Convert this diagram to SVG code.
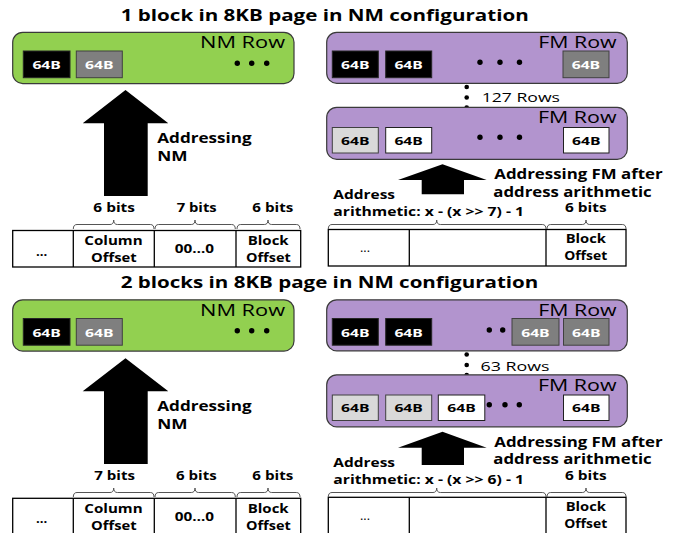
<svg xmlns="http://www.w3.org/2000/svg" width="682" height="533" viewBox="0 0 682 533">
<defs>
<style>
text{font-family:"Open Sans","Liberation Sans",sans-serif;fill:#000}
.b{font-weight:bold}
.title{font-size:16px;font-weight:bold}
.row{font-size:15.5px}
.blk{font-size:11px;font-weight:bold}
.w{fill:#fff}
.lbl{font-size:14px;font-weight:bold}
.sm{font-size:12.5px;font-weight:bold}
.rows{font-size:13px}
.nm{fill:#92D050;stroke:#3a3a3a;stroke-width:1.2}
.fm{fill:#B294CE;stroke:#3a3a3a;stroke-width:1.2}
.k{fill:#000;stroke:#262626;stroke-width:1}
.g{fill:#7F7F7F;stroke:#404040;stroke-width:1}
.lg{fill:#D9D9D9;stroke:#404040;stroke-width:1}
.wh{fill:#fff;stroke:#202020;stroke-width:1}
.tbl{fill:#fff;stroke:#000;stroke-width:1.3}
.dv{stroke:#000;stroke-width:1.3}
.br{fill:none;stroke:#555;stroke-width:1}
.arr{fill:#000}
</style>
</defs>

<!-- ================= TOP HALF ================= -->
<g id="top">
  <text class="title" x="120.7" y="20.7" textLength="408" lengthAdjust="spacingAndGlyphs">1 block in 8KB page in NM configuration</text>

  <g id="nm-row-1">
    <rect class="nm" x="12.7" y="32.3" width="281.3" height="51.3" rx="10"/>
    <text class="row" x="200" y="48.3" textLength="85" lengthAdjust="spacingAndGlyphs">NM Row</text>
    <rect class="k" x="23.3" y="51" width="46.7" height="26.7"/>
    <text class="blk w" x="32.4" y="69" textLength="28.5" lengthAdjust="spacingAndGlyphs">64B</text>
    <rect class="g" x="76.3" y="51" width="46" height="26.7"/>
    <text class="blk w" x="85" y="69" textLength="28.5" lengthAdjust="spacingAndGlyphs">64B</text>
    <circle cx="237.3" cy="63.3" r="2.7"/>
    <circle cx="251.7" cy="63.3" r="2.7"/>
    <circle cx="266.7" cy="63.3" r="2.7"/>
  </g>

  <g id="fm-row-1a">
    <rect class="fm" x="326.7" y="32.3" width="300.6" height="51" rx="10"/>
    <text class="row" x="538.3" y="48.3" textLength="78.3" lengthAdjust="spacingAndGlyphs">FM Row</text>
    <rect class="k" x="332.3" y="51" width="46" height="26.7"/>
    <text class="blk w" x="341" y="69" textLength="28.5" lengthAdjust="spacingAndGlyphs">64B</text>
    <rect class="k" x="385.7" y="51" width="46" height="26.7"/>
    <text class="blk w" x="394.4" y="69" textLength="28.5" lengthAdjust="spacingAndGlyphs">64B</text>
    <rect class="g" x="563" y="51" width="46" height="26.7"/>
    <text class="blk w" x="571.7" y="69" textLength="28.5" lengthAdjust="spacingAndGlyphs">64B</text>
    <circle cx="480" cy="62.3" r="2.7"/>
    <circle cx="500" cy="62.3" r="2.7"/>
    <circle cx="519.5" cy="62.3" r="2.7"/>
  </g>

  <g id="rows-1">
    <circle cx="466.7" cy="87" r="2.3"/>
    <circle cx="466.7" cy="97.5" r="2.3"/>
    <circle cx="466.7" cy="107.5" r="2.3"/>
    <text class="rows" x="481.7" y="102.3" textLength="78.3" lengthAdjust="spacingAndGlyphs">127 Rows</text>
  </g>

  <g id="fm-row-1b">
    <rect class="fm" x="326.7" y="107.3" width="300.6" height="52" rx="10"/>
    <text class="row" x="538" y="123.3" textLength="78.5" lengthAdjust="spacingAndGlyphs">FM Row</text>
    <rect class="lg" x="332.3" y="127.5" width="46" height="25.5"/>
    <text class="blk" x="341" y="144.5" textLength="28.5" lengthAdjust="spacingAndGlyphs">64B</text>
    <rect class="wh" x="385.7" y="127.5" width="46" height="25.5"/>
    <text class="blk" x="394.4" y="144.5" textLength="28.5" lengthAdjust="spacingAndGlyphs">64B</text>
    <rect class="wh" x="563.5" y="127.5" width="45.5" height="25.5"/>
    <text class="blk" x="572" y="144.5" textLength="28.5" lengthAdjust="spacingAndGlyphs">64B</text>
    <circle cx="480" cy="137.3" r="2.7"/>
    <circle cx="500" cy="137.3" r="2.7"/>
    <circle cx="519.5" cy="137.3" r="2.7"/>
  </g>

  <g id="label-nm-1">
    <text class="lbl" x="157.3" y="143" textLength="94.4" lengthAdjust="spacingAndGlyphs">Addressing</text>
    <text class="lbl" x="157.3" y="161" textLength="30.3" lengthAdjust="spacingAndGlyphs">NM</text>
  </g>
  <g id="label-fm-1">
    <text class="lbl" x="494.3" y="179" textLength="168.4" lengthAdjust="spacingAndGlyphs">Addressing FM after</text>
    <text class="lbl" x="493.3" y="196.7" textLength="158.4" lengthAdjust="spacingAndGlyphs">address arithmetic</text>
    <text class="sm" x="333.3" y="199.3" textLength="61.7" lengthAdjust="spacingAndGlyphs">Address</text>
    <text class="sm" x="333.3" y="216" textLength="190.7" lengthAdjust="spacingAndGlyphs">arithmetic: x - (x &gt;&gt; 7) - 1</text>
  </g>

  <g id="nm-address-1">
    <text class="sm" x="93.3" y="212" textLength="41.7" lengthAdjust="spacingAndGlyphs">6 bits</text>
    <text class="sm" x="176.7" y="212" textLength="40" lengthAdjust="spacingAndGlyphs">7 bits</text>
    <text class="sm" x="252.3" y="212" textLength="41" lengthAdjust="spacingAndGlyphs">6 bits</text>
    <rect class="tbl" x="12.7" y="230.5" width="288" height="36.5"/>
    <line class="dv" x1="73.3" y1="230.5" x2="73.3" y2="267"/>
    <line class="dv" x1="154.3" y1="230.5" x2="154.3" y2="267"/>
    <line class="dv" x1="236" y1="230.5" x2="236" y2="267"/>
    <text class="sm" x="36" y="255.5" textLength="11.3" lengthAdjust="spacingAndGlyphs">...</text>
    <text class="sm" x="84.3" y="245" textLength="58.3" lengthAdjust="spacingAndGlyphs">Column</text>
    <text class="sm" x="91" y="261.7" textLength="45.7" lengthAdjust="spacingAndGlyphs">Offset</text>
    <text class="sm" x="174.7" y="253.3" textLength="39.3" lengthAdjust="spacingAndGlyphs">00…0</text>
    <text class="sm" x="247.7" y="245" textLength="41" lengthAdjust="spacingAndGlyphs">Block</text>
    <text class="sm" x="246" y="261.7" textLength="44.7" lengthAdjust="spacingAndGlyphs">Offset</text>
  </g>

  <g id="fm-address-1">
    <text class="sm" x="565" y="212.3" textLength="41.7" lengthAdjust="spacingAndGlyphs">6 bits</text>
    <rect class="tbl" x="328.3" y="229.5" width="297.7" height="36.5"/>
    <line class="dv" x1="409.3" y1="229.5" x2="409.3" y2="266"/>
    <line class="dv" x1="546" y1="229.5" x2="546" y2="266"/>
    <text style="font-size:12px" x="360" y="252" textLength="10" lengthAdjust="spacingAndGlyphs">...</text>
    <text class="sm" x="565.7" y="243.3" textLength="40.3" lengthAdjust="spacingAndGlyphs">Block</text>
    <text class="sm" x="564.3" y="260" textLength="43" lengthAdjust="spacingAndGlyphs">Offset</text>
  </g>

  <g id="connectors-1">
    <polygon class="arr" points="125.5,90 168.3,123.3 147.7,123.3 147.7,196 104,196 104,123.3 82.7,123.3"/>
    <polygon class="arr" points="442.5,164.3 486.7,180 464,180 464,194.3 421.7,194.3 421.7,180 398,180"/>
    <path class="br" d="M73.3 229 Q73.3 224.5 77 224.5 H110 Q113.7 224.5 113.7 220 Q113.7 224.5 117.4 224.5 H150.3 Q154 224.5 154 229"/>
    <path class="br" d="M155 229 Q155 224.5 158.7 224.5 H191.3 Q195 224.5 195 220 Q195 224.5 198.7 224.5 H231.6 Q235.3 224.5 235.3 229"/>
    <path class="br" d="M237 229 Q237 224.5 240.7 224.5 H264.3 Q268 224.5 268 220 Q268 224.5 271.7 224.5 H296.3 Q300 224.5 300 229"/>
    <path class="br" d="M328.3 229 Q328.3 224.5 332 224.5 H433 Q436.7 224.5 436.7 220 Q436.7 224.5 440.4 224.5 H542.3 Q546 224.5 546 229"/>
    <path class="br" d="M547 229 Q547 224.5 550.7 224.5 H582.3 Q586 224.5 586 220 Q586 224.5 589.7 224.5 H622.3 Q626 224.5 626 229"/>
  </g>
</g>

<!-- ================= BOTTOM HALF ================= -->
<g id="bottom" transform="translate(0,267.5)">
  <text class="title" x="120.7" y="20.8" textLength="417.6" lengthAdjust="spacingAndGlyphs">2 blocks in 8KB page in NM configuration</text>

  <g id="nm-row-2">
    <rect class="nm" x="12.7" y="32.3" width="281.3" height="51.3" rx="10"/>
    <text class="row" x="200" y="48.3" textLength="85" lengthAdjust="spacingAndGlyphs">NM Row</text>
    <rect class="k" x="23.3" y="51" width="46.7" height="26.7"/>
    <text class="blk w" x="32.4" y="69" textLength="28.5" lengthAdjust="spacingAndGlyphs">64B</text>
    <rect class="g" x="76.3" y="51" width="46" height="26.7"/>
    <text class="blk w" x="85" y="69" textLength="28.5" lengthAdjust="spacingAndGlyphs">64B</text>
    <circle cx="237.3" cy="63.3" r="2.7"/>
    <circle cx="251.7" cy="63.3" r="2.7"/>
    <circle cx="266.7" cy="63.3" r="2.7"/>
  </g>

  <g id="fm-row-2a">
    <rect class="fm" x="326.7" y="32.3" width="300.6" height="51" rx="10"/>
    <text class="row" x="538.3" y="48.3" textLength="78.3" lengthAdjust="spacingAndGlyphs">FM Row</text>
    <rect class="k" x="332.3" y="51" width="46" height="26.7"/>
    <text class="blk w" x="341" y="69" textLength="28.5" lengthAdjust="spacingAndGlyphs">64B</text>
    <rect class="k" x="385.7" y="51" width="46" height="26.7"/>
    <text class="blk w" x="394.4" y="69" textLength="28.5" lengthAdjust="spacingAndGlyphs">64B</text>
    <circle cx="489.3" cy="62.5" r="2.7"/>
    <circle cx="502.7" cy="62.5" r="2.7"/>
    <rect class="g" x="512" y="51" width="47" height="26.7"/>
    <text class="blk w" x="521.2" y="69" textLength="28.5" lengthAdjust="spacingAndGlyphs">64B</text>
    <rect class="g" x="563.5" y="51" width="45.5" height="26.7"/>
    <text class="blk w" x="572" y="69" textLength="28.5" lengthAdjust="spacingAndGlyphs">64B</text>
  </g>

  <g id="rows-2">
    <circle cx="466.7" cy="87" r="2.3"/>
    <circle cx="466.7" cy="97.5" r="2.3"/>
    <circle cx="466.7" cy="107.5" r="2.3"/>
    <text class="rows" x="480.5" y="103" textLength="69" lengthAdjust="spacingAndGlyphs">63 Rows</text>
  </g>

  <g id="fm-row-2b">
    <rect class="fm" x="326.7" y="107.3" width="300.6" height="52" rx="10"/>
    <text class="row" x="538" y="123.3" textLength="78.5" lengthAdjust="spacingAndGlyphs">FM Row</text>
    <circle cx="489.3" cy="137.3" r="2.7"/>
    <circle cx="505" cy="137.3" r="2.7"/>
    <circle cx="519.3" cy="137.3" r="2.7"/>
    <rect class="lg" x="332.3" y="127.5" width="46" height="25.5"/>
    <text class="blk" x="341" y="144.5" textLength="28.5" lengthAdjust="spacingAndGlyphs">64B</text>
    <rect class="lg" x="385.7" y="127.5" width="46" height="25.5"/>
    <text class="blk" x="394.4" y="144.5" textLength="28.5" lengthAdjust="spacingAndGlyphs">64B</text>
    <rect class="wh" x="438.3" y="127.5" width="46.5" height="25.5"/>
    <text class="blk" x="447.3" y="144.5" textLength="28.5" lengthAdjust="spacingAndGlyphs">64B</text>
    <rect class="wh" x="563.5" y="127.5" width="45.5" height="25.5"/>
    <text class="blk" x="572" y="144.5" textLength="28.5" lengthAdjust="spacingAndGlyphs">64B</text>
  </g>

  <g id="label-nm-2">
    <text class="lbl" x="157.3" y="143" textLength="94.4" lengthAdjust="spacingAndGlyphs">Addressing</text>
    <text class="lbl" x="157.3" y="161" textLength="30.3" lengthAdjust="spacingAndGlyphs">NM</text>
  </g>
  <g id="label-fm-2">
    <text class="lbl" x="494.3" y="179" textLength="168.4" lengthAdjust="spacingAndGlyphs">Addressing FM after</text>
    <text class="lbl" x="493.3" y="196.7" textLength="158.4" lengthAdjust="spacingAndGlyphs">address arithmetic</text>
    <text class="sm" x="333.3" y="199.3" textLength="61.7" lengthAdjust="spacingAndGlyphs">Address</text>
    <text class="sm" x="333.3" y="216" textLength="190.7" lengthAdjust="spacingAndGlyphs">arithmetic: x - (x &gt;&gt; 6) - 1</text>
  </g>

  <g id="nm-address-2">
    <text class="sm" x="94.3" y="212.3" textLength="40.7" lengthAdjust="spacingAndGlyphs">7 bits</text>
    <text class="sm" x="176" y="212.3" textLength="40.7" lengthAdjust="spacingAndGlyphs">6 bits</text>
    <text class="sm" x="252.3" y="212.3" textLength="41" lengthAdjust="spacingAndGlyphs">6 bits</text>
    <rect class="tbl" x="12.7" y="230.8" width="288" height="36.5"/>
    <line class="dv" x1="73.3" y1="230.8" x2="73.3" y2="267.3"/>
    <line class="dv" x1="154.3" y1="230.8" x2="154.3" y2="267.3"/>
    <line class="dv" x1="236" y1="230.8" x2="236" y2="267.3"/>
    <text class="sm" x="36" y="255.5" textLength="11.3" lengthAdjust="spacingAndGlyphs">...</text>
    <text class="sm" x="84.3" y="245.5" textLength="58.3" lengthAdjust="spacingAndGlyphs">Column</text>
    <text class="sm" x="91" y="262.2" textLength="45.7" lengthAdjust="spacingAndGlyphs">Offset</text>
    <text class="sm" x="174.7" y="253.5" textLength="39.3" lengthAdjust="spacingAndGlyphs">00…0</text>
    <text class="sm" x="247.7" y="245.5" textLength="41" lengthAdjust="spacingAndGlyphs">Block</text>
    <text class="sm" x="246" y="262.2" textLength="44.7" lengthAdjust="spacingAndGlyphs">Offset</text>
  </g>

  <g id="fm-address-2">
    <text class="sm" x="565" y="212.3" textLength="41.7" lengthAdjust="spacingAndGlyphs">6 bits</text>
    <rect class="tbl" x="328.3" y="229.8" width="297.7" height="36.5"/>
    <line class="dv" x1="409.3" y1="229.8" x2="409.3" y2="266.3"/>
    <line class="dv" x1="546" y1="229.8" x2="546" y2="266.3"/>
    <text style="font-size:12px" x="360" y="252.3" textLength="10" lengthAdjust="spacingAndGlyphs">...</text>
    <text class="sm" x="565.7" y="243.6" textLength="40.3" lengthAdjust="spacingAndGlyphs">Block</text>
    <text class="sm" x="564.3" y="260.3" textLength="43" lengthAdjust="spacingAndGlyphs">Offset</text>
  </g>

  <g id="connectors-2">
    <polygon class="arr" points="125.5,90.8 168.3,123.8 147.7,123.8 147.7,196.5 104,196.5 104,123.8 82.7,123.8"/>
    <polygon class="arr" points="442.5,164.3 486.7,180.2 464,180.2 464,197.5 421.7,197.5 421.7,180.2 398,180.2"/>
    <path class="br" d="M73.3 229.5 Q73.3 225 77 225 H110 Q113.7 225 113.7 220.5 Q113.7 225 117.4 225 H150.3 Q154 225 154 229.5"/>
    <path class="br" d="M155 229.5 Q155 225 158.7 225 H191.3 Q195 225 195 220.5 Q195 225 198.7 225 H231.6 Q235.3 225 235.3 229.5"/>
    <path class="br" d="M237 229.5 Q237 225 240.7 225 H264.3 Q268 225 268 220.5 Q268 225 271.7 225 H296.3 Q300 225 300 229.5"/>
    <path class="br" d="M328.3 229.5 Q328.3 225 332 225 H433 Q436.7 225 436.7 220.5 Q436.7 225 440.4 225 H542.3 Q546 225 546 229.5"/>
    <path class="br" d="M547 229.5 Q547 225 550.7 225 H582.3 Q586 225 586 220.5 Q586 225 589.7 225 H622.3 Q626 225 626 229.5"/>
  </g>
</g>
</svg>
